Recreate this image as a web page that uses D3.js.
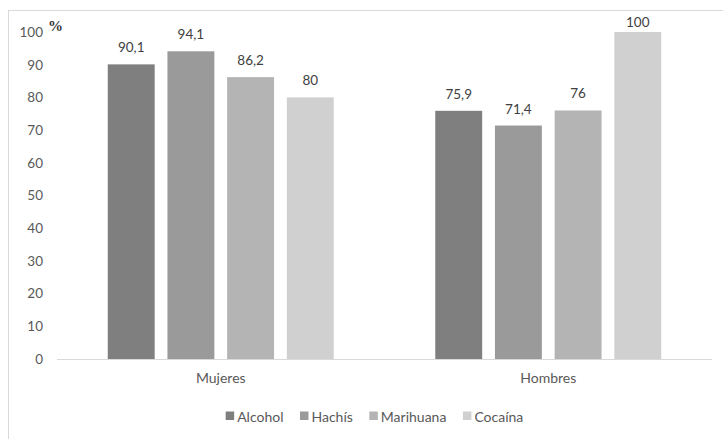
<!DOCTYPE html>
<html>
<head>
<meta charset="utf-8">
<script src="https://cdn.jsdelivr.net/npm/d3@7"></script>
<style>
  html, body { margin: 0; padding: 0; background: #fff; }
  svg { display: block; }
  text { font-family: Lato, "Open Sans", sans-serif; }
</style>
</head>
<body>
<svg id="chart" width="723" height="439"></svg>
<script>
const categories = ["Mujeres", "Hombres"];
const seriesNames = ["Alcohol", "Hachís", "Marihuana", "Cocaína"];
const alcohol = [90.1, 75.9];
const hachis = [94.1, 71.4];
const marihuana = [86.2, 76];
const cocaina = [80, 100];
const yTicks = [0, 10, 20, 30, 40, 50, 60, 70, 80, 90, 100];
const seriesColors = ["#7f7f7f", "#9a9a9a", "#b4b4b4", "#d0d0d0"];
const valueLabels = [["90,1", "75,9"], ["94,1", "71,4"], ["86,2", "76"], ["80", "100"]];

const seriesValues = [alcohol, hachis, marihuana, cocaina];

const svg = d3.select("#chart");
const W = 723, H = 439;
const plot = { left: 57, right: 712, top: 32, bottom: 359 };

// outer frame (right/bottom edges fall outside the picture)
svg.append("rect")
  .attr("x", 8.5).attr("y", 10.5)
  .attr("width", 730).attr("height", 450)
  .attr("fill", "none").attr("stroke", "#d9d9d9").attr("stroke-width", 1);

const x0 = d3.scaleBand().domain(categories)
  .range([plot.left, plot.right]).paddingInner(0.31).paddingOuter(0.155);
const x1 = d3.scaleBand().domain(seriesNames)
  .range([0, x0.bandwidth()]).paddingInner(0.214).paddingOuter(0);
const y = d3.scaleLinear().domain([0, 100]).range([plot.bottom, plot.top]);

// y axis labels
const yAxis = d3.axisLeft(y).tickValues(yTicks).tickSize(0).tickPadding(0).tickFormat(d3.format("d"));
const gy = svg.append("g").attr("transform", `translate(43,0)`).call(yAxis);
gy.select(".domain").remove();
gy.selectAll("text")
  .attr("fill", "#595959")
  .style("font-family", "Lato, sans-serif")
  .style("font-size", "13.5px");

// "%" unit label
svg.append("text")
  .attr("x", 48).attr("y", 31)
  .attr("fill", "#333")
  .style("font-family", "'Liberation Serif', serif")
  .style("font-size", "15px")
  .style("font-weight", "bold")
  .text("%");

// bars
const groups = svg.append("g").selectAll("g")
  .data(categories).join("g")
  .attr("transform", d => `translate(${x0(d)},0)`);

groups.each(function(cat, ci) {
  const g = d3.select(this);
  seriesNames.forEach((s, si) => {
    const v = seriesValues[si][ci];
    g.append("rect")
      .attr("x", x1(s))
      .attr("y", y(v))
      .attr("width", x1.bandwidth())
      .attr("height", y(0) - y(v))
      .attr("fill", seriesColors[si]);
    g.append("text")
      .attr("x", x1(s) + x1.bandwidth() / 2)
      .attr("y", Math.max(y(v) - 12, 27))
      .attr("text-anchor", "middle")
      .attr("fill", "#404040")
      .style("font-size", "13.5px")
      .text(valueLabels[si][ci]);
  });
});

// baseline
svg.append("line")
  .attr("x1", plot.left).attr("x2", plot.right)
  .attr("y1", y(0) + 0.5).attr("y2", y(0) + 0.5)
  .attr("stroke", "#d9d9d9").attr("stroke-width", 1);

// category labels
const xAxis = d3.axisBottom(x0).tickSize(0).tickPadding(0);
const gx = svg.append("g").attr("transform", `translate(0,${y(0) + 14})`).call(xAxis);
gx.select(".domain").remove();
gx.selectAll("text")
  .attr("fill", "#595959")
  .style("font-family", "Lato, sans-serif")
  .style("font-size", "14px");

// legend
const legend = svg.append("g");
let cx = 0;
seriesNames.forEach((s, i) => {
  const item = legend.append("g").attr("transform", `translate(${cx},0)`);
  item.append("rect").attr("x", 0).attr("y", -10).attr("width", 8.5).attr("height", 8.5)
    .attr("fill", seriesColors[i]);
  const t = item.append("text").attr("x", 11.5).attr("y", 0)
    .attr("fill", "#595959").style("font-size", "14px").text(s);
  cx += 11.5 + t.node().getComputedTextLength() + 16.5;
});
const legendWidth = cx - 16.5;
legend.attr("transform", `translate(${374.5 - legendWidth / 2},421.5)`);
</script>
</body>
</html>
